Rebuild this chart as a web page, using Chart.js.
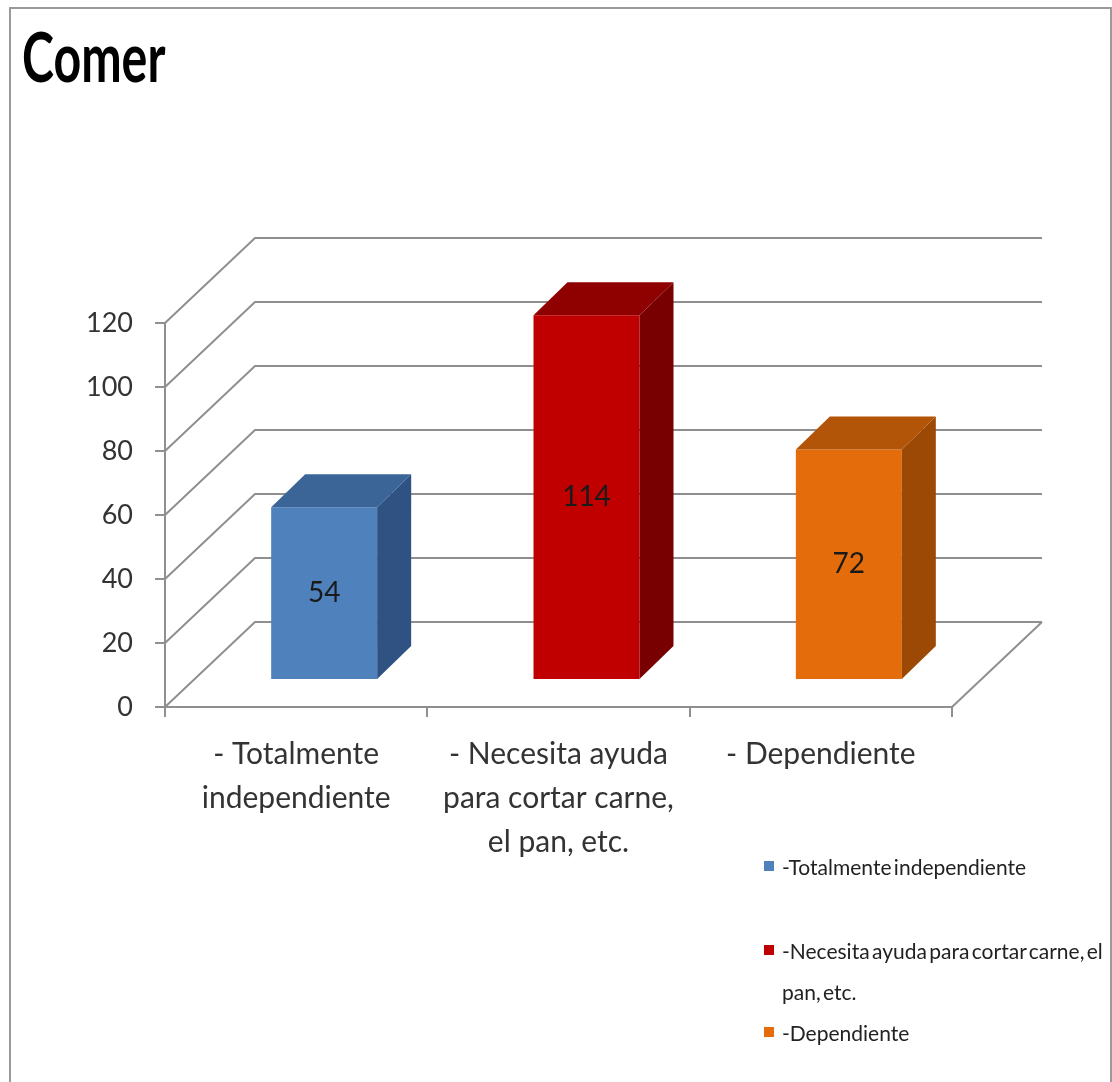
<!DOCTYPE html>
<html>
<head>
<meta charset="utf-8">
<title>Comer</title>
<script src="https://cdn.jsdelivr.net/npm/chart.js@4.4.1/dist/chart.umd.min.js"></script>
<style>
  body { margin: 0; background: #fff; }
  #wrap { position: relative; width: 1112px; height: 1082px; overflow: hidden; }
  #frame { position: absolute; left: 9px; top: 7px; width: 1103px; height: 1100px;
           box-sizing: border-box; border: 2px solid #9a9a9a; }
  canvas { position: absolute; left: 0; top: 0; }
  #title { position: absolute; left: 22px; top: 22px; margin: 0;
           font: bold 68px Lato, "Open Sans", sans-serif;
           line-height: 68px; color: #000; transform: scaleX(0.71); transform-origin: left top; }
  #legend { position: absolute; left: 764px; top: 846px; white-space: nowrap;
            font: 21px Lato, "Open Sans", sans-serif; word-spacing: -3px;
            line-height: 41px; color: #222; }
  .item { display: flex; align-items: flex-start; }
  .item:first-child { margin-bottom: 43px; }
  .box { width: 10px; height: 10px; margin-top: 15px; margin-right: 8px; flex: none; }
</style>
</head>
<body>
<div id="wrap">
  <div id="frame"></div>
  <canvas id="chart" width="1112" height="1082"></canvas>
  <h1 id="title">Comer</h1>
  <div id="legend"></div>
</div>
<script>
// data
var categories = ['- Totalmente independiente', '- Necesita ayuda para cortar carne, el pan, etc.', '- Dependiente'];
var tickLabels = [['- Totalmente', 'independiente'], ['- Necesita ayuda', 'para cortar carne,', 'el pan, etc.'], ['- Dependiente']];
var legendLabels = [['-Totalmente independiente'], ['-Necesita ayuda para cortar carne, el', 'pan, etc.'], ['-Dependiente']];
var values = [54, 114, 72];
var yTicks = [0, 20, 40, 60, 80, 100, 120];

var frontColors = ['#4f81bd', '#c00000', '#e46c0a'];
var topColors = ['#3b6497', '#8f0000', '#b35508'];
var sideColors = ['#2f5283', '#780000', '#9b4905'];

var GRID = '#8f8f8f';
var FONT = 'Lato, "Open Sans", sans-serif';
// 3d offsets
var DEPTH_X = 90, DEPTH_Y = -85;   // front plane -> back wall
var FACE_X = 28, FACE_Y = -27;     // front plane -> bar front face
var BAR_DX = 34, BAR_DY = -33;     // bar depth

var threeD = {
  id: 'threeD',
  beforeDatasetsDraw: function(chart) {
    var ctx = chart.ctx, a = chart.chartArea, y = chart.scales.y;
    ctx.save();
    ctx.strokeStyle = GRID;
    ctx.lineWidth = 2;
    y.ticks.forEach(function(t) {
      var py = y.getPixelForValue(t.value);
      ctx.beginPath();
      ctx.moveTo(a.left, py);
      ctx.lineTo(a.left + DEPTH_X, py + DEPTH_Y);
      ctx.lineTo(a.right + DEPTH_X, py + DEPTH_Y);
      ctx.stroke();
    });
    ctx.beginPath();
    ctx.moveTo(a.right, a.bottom);
    ctx.lineTo(a.right + DEPTH_X, a.bottom + DEPTH_Y);
    ctx.stroke();
    ctx.restore();
    ctx.save();
    ctx.translate(FACE_X, FACE_Y);
  },
  afterDatasetsDraw: function(chart) {
    var ctx = chart.ctx;
    ctx.restore();
    var meta = chart.getDatasetMeta(0);
    meta.data.forEach(function(el, i) {
      var xl = el.x - el.width / 2 + FACE_X, xr = el.x + el.width / 2 + FACE_X;
      var yt = el.y + FACE_Y, yb = el.base + FACE_Y;
      ctx.fillStyle = sideColors[i];
      ctx.beginPath();
      ctx.moveTo(xr, yt);
      ctx.lineTo(xr + BAR_DX, yt + BAR_DY);
      ctx.lineTo(xr + BAR_DX, yb + BAR_DY);
      ctx.lineTo(xr, yb);
      ctx.closePath();
      ctx.fill();
      ctx.fillStyle = topColors[i];
      ctx.beginPath();
      ctx.moveTo(xl, yt);
      ctx.lineTo(xl + BAR_DX, yt + BAR_DY);
      ctx.lineTo(xr + BAR_DX, yt + BAR_DY);
      ctx.lineTo(xr, yt);
      ctx.closePath();
      ctx.fill();
      ctx.fillStyle = '#1a1a1a';
      ctx.font = '28px ' + FONT;
      ctx.textAlign = 'center';
      ctx.textBaseline = 'middle';
      ctx.fillText(values[i], el.x + FACE_X, (el.y + el.base) / 2 + FACE_Y);
    });
  }
};

var context = document.getElementById('chart').getContext('2d');
var myChart = new Chart(context, {
  type: 'bar',
  data: {
    labels: tickLabels,
    datasets: [{
      label: 'Comer',
      data: values,
      backgroundColor: frontColors,
      borderWidth: 0,
      barPercentage: 0.404,
      categoryPercentage: 1,
      clip: false
    }]
  },
  options: {
    responsive: false,
    animation: false,
    layout: { padding: { top: 323, left: 0, right: 160, bottom: 175 } },
    plugins: { legend: { display: false }, tooltip: { enabled: false }, title: { display: false } },
    scales: {
      x: {
        afterFit: function(s) { s.height = 200; },
        grid: { drawOnChartArea: false, color: GRID, lineWidth: 2, tickLength: 10, offset: true },
        border: { color: GRID, width: 2 },
        ticks: { color: '#333', padding: 15, autoSkip: false, maxRotation: 0,
                 font: { family: FONT, size: 30, lineHeight: 1.47 } }
      },
      y: {
        min: 0,
        max: 120,
        afterFit: function(s) { s.width = 165; },
        afterBuildTicks: function(s) { s.ticks = yTicks.map(function(v) { return { value: v }; }); },
        grid: { drawOnChartArea: false, color: GRID, lineWidth: 2, tickLength: 10 },
        border: { color: GRID, width: 2 },
        ticks: { color: '#333', padding: 22, font: { family: FONT, size: 27 } }
      }
    }
  },
  plugins: [threeD]
});

// legend
var legend = document.getElementById('legend');
legendLabels.forEach(function(lines, i) {
  var item = document.createElement('div');
  item.className = 'item';
  var box = document.createElement('span');
  box.className = 'box';
  box.style.background = frontColors[i];
  var txt = document.createElement('div');
  txt.innerHTML = lines.join('<br>');
  item.appendChild(box);
  item.appendChild(txt);
  legend.appendChild(item);
});
</script>
</body>
</html>
